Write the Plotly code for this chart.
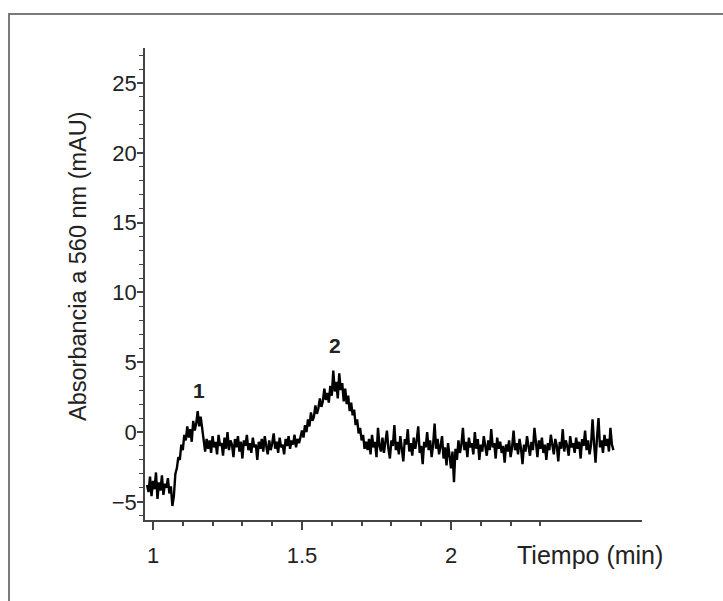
import plotly.graph_objects as go

# ---- data ----
t_start = 0.980
t_step = 0.005
absorbance = [
    # 0.980 - 1.065
    -3.8, -4.3, -3.2, -4.6, -3.5, -4.1, -2.9, -4.8, -3.6, -4.2, -3.1, -4.5, -3.7, -4.0, -3.3, -4.4, -3.9, -5.3,
    # 1.070 - 1.105 rise
    -4.6, -3.0, -2.6, -1.8, -2.0, -0.9, -1.3, -0.2,
    # 1.110 - 1.145
    -0.6, 0.4, -0.4, 0.2, -0.7, 0.8, 0.1, 0.6,
    # peak 1: 1.150 - 1.165
    1.5, 0.4, 1.1, 0.2,
    # 1.170 - 1.185
    -0.3, -1.4, -0.5, -1.2,
    # baseline 1.190 - 1.495
    -0.6, -1.5, -0.3, -1.1, -0.7, -1.6, -0.2, -1.0, -0.8, -1.7,
    -0.4, -1.2, 0.0, -1.3, -0.6, -0.9, -1.8, -0.5, -1.1, -0.3,
    -1.4, -0.7, -1.9, -0.6, -1.0, -0.2, -1.3, -0.8, -1.5, -0.4,
    -1.1, -0.9, -2.0, -0.7, -1.2, -0.5, -1.4, -0.3, -1.0, -1.6,
    -0.6, -1.3, -0.8, -0.1, -1.2, -0.7, -1.5, -0.4, -1.1, -0.9,
    -1.6, -0.5, -1.0, -0.3, -1.2, -0.6, -0.9, -0.2, -1.1, -0.5,
    -0.8, -0.3,
    # rise to peak 2: 1.500 - 1.610
    0.1, -0.4, 0.5, 0.0, 0.9, 0.4, 1.4, 0.8, 1.1, 1.9, 1.3, 1.7, 2.4, 1.8, 2.2,
    3.1, 2.3, 2.8, 2.1, 3.3, 2.6, 4.4, 2.9,
    # peak 2 top: 1.615 - 1.640
    3.6, 2.4, 4.2, 3.0, 3.5, 2.2,
    # fall: 1.645 - 1.715
    3.1, 2.0, 2.6, 1.5, 2.1, 1.2, 1.6, 0.5, 0.9, -0.1, 0.3, -0.6, -0.2, -1.2, -0.7,
    # baseline 1.720 - 2.545
    -1.3, -0.5, -1.6, -0.2, -1.1, -0.7, -1.8, 0.3, -1.0, -1.4,
    -0.4, -1.5, -0.8, 0.1, -1.2, -1.9, -0.6, -1.0, 0.5, -1.3,
    -0.7, -1.6, -0.3, -1.1, -2.1, -0.5, -0.9, 0.2, -1.4, -0.8,
    -1.7, -0.4, -1.2, -0.6, 0.4, -1.5, -1.0, -2.3, -0.7, -1.1,
    0.0, -1.3, -0.6, -1.8, -0.9, 0.6, -1.2, -0.5, -1.6, -1.0,
    -0.3, -1.9, -1.1, -2.4, -0.8, -1.7, -2.6, -1.4, -3.6, -1.2,
    -2.0, -0.6, -1.5, -0.9, 0.3, -1.3, -0.7, -1.8, -0.4, -1.1,
    -0.8, -1.6, 0.0, -1.2, -0.5, -2.0, -0.9, -1.4, -0.3, -1.0,
    -1.7, -0.6, -1.3, 0.2, -1.1, -0.8, -1.9, -0.4, -1.2, -0.7,
    -1.5, -1.0, -2.2, -0.9, -1.4, -0.6, -1.8, -1.1, 0.1, -1.3,
    -0.8, -1.6, -0.5, -1.2, -2.3, -0.9, -1.4, -0.3, -1.1, -1.7,
    -0.7, -1.3, 0.3, -1.0, -1.8, -0.6, -1.2, -0.4, -1.5, -0.9,
    -2.0, -0.8, -1.3, -0.2, -1.1, -1.6, -0.5, -1.0, -2.1, -0.7,
    -1.2, 0.2, -1.4, -0.6, -1.0, -1.7, -0.3, -1.1, -0.8, -1.5,
    -0.4, -1.2, -0.7, -1.9, -0.5, -1.0, 0.1, -1.3, -0.6, -1.6,
    -0.9, 0.9, -0.8, -2.2, -0.4, 1.0, -1.1, -0.6, -1.5, -0.2,
    -1.0, -0.5, -1.4, 0.3, -0.9, -1.3,
]
time_min = [round(t_start + i * t_step, 3) for i in range(len(absorbance))]

peak_labels = ["1", "2"]
peak_times = [1.153, 1.61]
peak_label_y = [3.0, 6.2]

x_tick_vals = [1, 1.5, 2]
x_tick_text = ["1", "1.5", "2"]
x_minor_vals = [1.1, 1.2, 1.3, 1.4, 1.6, 1.7, 1.8, 1.9, 2.1, 2.2, 2.3]
y_tick_vals = [-5, 0, 5, 10, 15, 20, 25]

x_title = "Tiempo (min)"
y_title = "Absorbancia a 560 nm (mAU)"

# ---- layout geometry (pixels) ----
W, H = 723, 601
L, R, T, B = 145, 642, 48, 520
pw, ph = R - L, B - T


def px(x):
    return (x - L) / pw


def py(y):
    return (B - y) / ph


font_family = "Liberation Sans, Arial, sans-serif"
txt_color = "#222222"

fig = go.Figure()
fig.add_trace(go.Scatter(
    x=time_min, y=absorbance, mode="lines",
    line=dict(color="black", width=2.4),
    hoverinfo="skip", showlegend=False,
))

for lab, tx, ty in zip(peak_labels, peak_times, peak_label_y):
    fig.add_annotation(x=tx, y=ty, text="<b>%s</b>" % lab, showarrow=False,
                       font=dict(size=21, color=txt_color, family=font_family),
                       xanchor="center", yanchor="middle")

fig.add_annotation(xref="paper", yref="paper", x=px(515), y=py(555), text=x_title,
                   showarrow=False, xanchor="left", yanchor="middle",
                   font=dict(size=25, color=txt_color, family=font_family))
fig.add_annotation(xref="paper", yref="paper", x=px(78), y=py(266), text=y_title,
                   showarrow=False, textangle=-90, xanchor="center", yanchor="middle",
                   font=dict(size=23.5, color=txt_color, family=font_family))

# outer gray frame (top and left edges)
fig.add_shape(type="line", xref="paper", yref="paper",
              x0=px(8), y0=py(14), x1=px(723), y1=py(14),
              line=dict(color="#7a7a7a", width=2))
fig.add_shape(type="line", xref="paper", yref="paper",
              x0=px(9), y0=py(14), x1=px(9), y1=py(601),
              line=dict(color="#7a7a7a", width=2))

x_range = [1 + (L - 153) / 298, 1 + (R - 153) / 298]
y_range = [(432 - B) / 13.96, (432 - T) / 13.96]

fig.update_layout(
    width=W, height=H,
    margin=dict(l=L, r=W - R, t=T, b=H - B),
    paper_bgcolor="white", plot_bgcolor="white",
    font=dict(family=font_family, size=22, color=txt_color),
    xaxis=dict(
        range=x_range, showgrid=False, zeroline=False,
        showline=True, linecolor="#444444", linewidth=1.5,
        tickmode="array", tickvals=x_tick_vals, ticktext=x_tick_text,
        ticks="outside", ticklen=8, tickwidth=1.5, tickcolor="#444444",
        ticklabelstandoff=7,
        minor=dict(tickmode="array", tickvals=x_minor_vals, ticks="outside",
                   ticklen=4, tickwidth=1.5, tickcolor="#444444"),
        tickfont=dict(size=22, color=txt_color),
    ),
    yaxis=dict(
        range=y_range, showgrid=False, zeroline=False,
        showline=True, linecolor="#444444", linewidth=1.5,
        tickmode="array", tickvals=y_tick_vals,
        ticks="outside", ticklen=6, tickwidth=1.5, tickcolor="#444444",
        ticklabelstandoff=-4,
        minor=dict(dtick=1, tick0=0, ticks="outside", ticklen=4,
                   tickwidth=1.2, tickcolor="#444444"),
        tickfont=dict(size=22, color=txt_color),
    ),
)

fig.write_html("out.html", config={"displayModeBar": False},
               post_script="document.body.style.margin='0';")
